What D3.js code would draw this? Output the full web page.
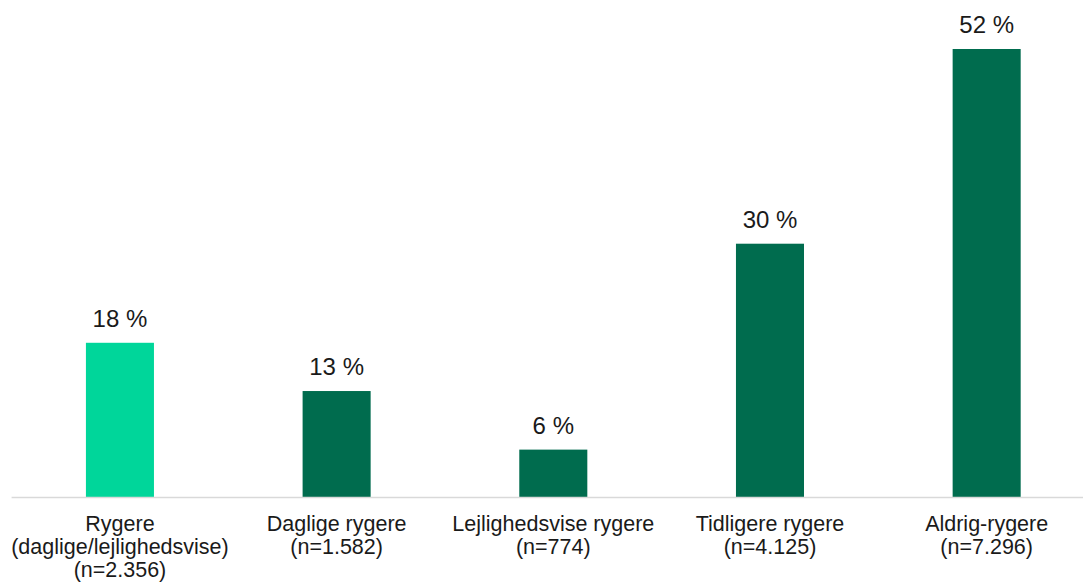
<!DOCTYPE html>
<html>
<head>
<meta charset="utf-8">
<script src="https://cdn.jsdelivr.net/npm/d3@7"></script>
<style>
  body { margin: 0; background: #fff; }
  text { font-family: "Liberation Sans", Arial, sans-serif; fill: #1a1a1a; }
</style>
</head>
<body>
<div id="chart"></div>
<script>
// data
const categories = [
    ["Rygere", "(daglige/lejlighedsvise)", "(n=2.356)"],
    ["Daglige rygere", "(n=1.582)"],
    ["Lejlighedsvise rygere", "(n=774)"],
    ["Tidligere rygere", "(n=4.125)"],
    ["Aldrig-rygere", "(n=7.296)"]
]
const values = [17.9, 12.3, 5.5, 29.4, 52]
const valueLabels = ["18 %", "13 %", "6 %", "30 %", "52 %"]
const barColors = ["#00d69a", "#006c4e", "#006c4e", "#006c4e", "#006c4e"]

const W = 1083, H = 582
const margin = { top: 49, right: -12, bottom: 85, left: 11.6 }

const svg = d3.select("#chart")
    .append("svg")
    .attr("width", W)
    .attr("height", H)

const x = d3.scaleBand()
    .domain(d3.range(values.length))
    .range([margin.left, W - margin.right])
    .paddingInner(0.686)
    .paddingOuter(0.343)

const y = d3.scaleLinear()
    .domain([0, d3.max(values)])
    .range([H - margin.bottom, margin.top])

svg.selectAll("rect.bar")
    .data(values)
    .enter()
    .append("rect")
    .attr("class", "bar")
    .attr("x", (d, i) => x(i))
    .attr("width", x.bandwidth())
    .attr("y", d => y(d))
    .attr("height", d => y(0) - y(d))
    .attr("fill", (d, i) => barColors[i])

// baseline
svg.append("line")
    .attr("x1", x.range()[0])
    .attr("x2", x.range()[1])
    .attr("y1", y(0) + 0.5)
    .attr("y2", y(0) + 0.5)
    .attr("stroke", "#d9d9d9")
    .attr("stroke-width", 1.5)

// value labels
svg.selectAll("text.val")
    .data(values)
    .enter()
    .append("text")
    .attr("class", "val")
    .attr("x", (d, i) => x(i) + x.bandwidth() / 2)
    .attr("y", d => y(d) - 16)
    .attr("text-anchor", "middle")
    .style("font-size", "24px")
    .text((d, i) => valueLabels[i])

// category labels
const cat = svg.selectAll("text.cat")
    .data(categories)
    .enter()
    .append("text")
    .attr("class", "cat")
    .attr("text-anchor", "middle")
    .attr("transform", (d, i) => "translate(" + (x(i) + x.bandwidth() / 2) + "," + (y(0) + 34) + ")")
    .style("font-size", "21.5px")

cat.selectAll("tspan")
    .data(d => d)
    .enter()
    .append("tspan")
    .attr("x", 0)
    .attr("dy", (d, j) => j === 0 ? 0 : 23)
    .text(d => d)
</script>
</body>
</html>
